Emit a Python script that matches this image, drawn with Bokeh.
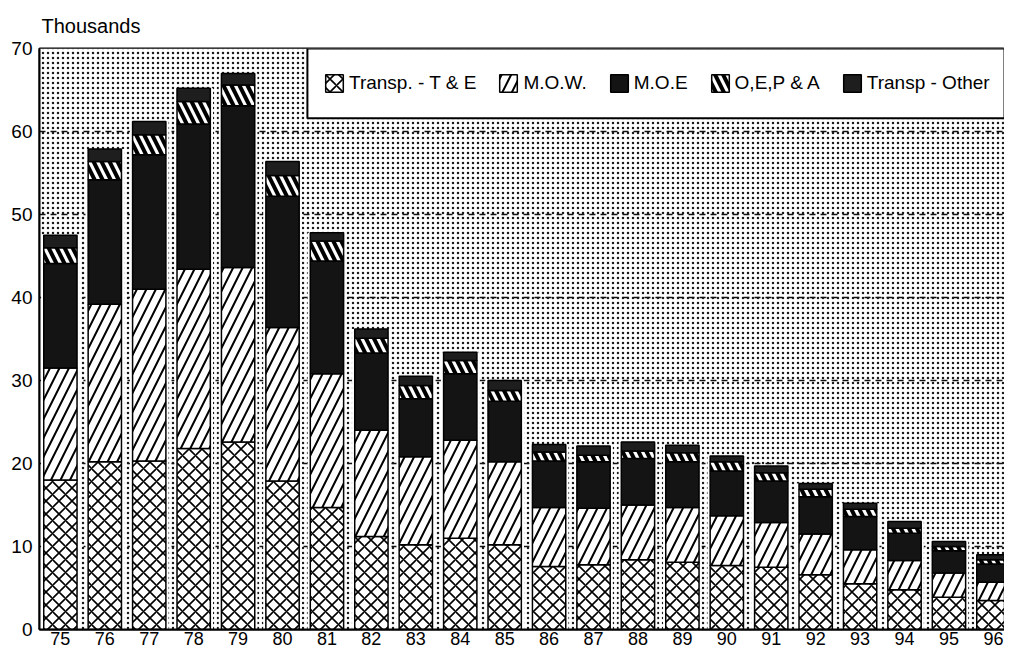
from bokeh.plotting import figure
from bokeh.models import (ColumnDataSource, Range1d, FixedTicker, Legend, LegendItem,
                          BoxAnnotation)
from bokeh.embed import file_html
from bokeh.resources import INLINE

# ---------------- data (thousands) ----------------
years = [75, 76, 77, 78, 79, 80, 81, 82, 83, 84, 85, 86, 87, 88, 89, 90, 91, 92, 93, 94, 95, 96]
year_labels = [str(y) for y in years]
transp_te = [18.0, 20.2, 20.3, 21.8, 22.6, 17.9, 14.7, 11.2, 10.2, 11.0, 10.2, 7.6, 7.8, 8.4, 8.1, 7.7, 7.5, 6.6, 5.5, 4.8, 3.9, 3.5]
mow       = [13.5, 19.0, 20.7, 21.6, 21.0, 18.5, 16.1, 12.8, 10.6, 11.8, 10.0, 7.1, 6.8, 6.6, 6.6, 6.0, 5.4, 4.9, 4.1, 3.5, 2.9, 2.2]
moe       = [12.6, 15.0, 16.2, 17.5, 19.5, 15.8, 13.6, 9.3, 7.0, 8.0, 7.3, 5.6, 5.6, 5.6, 5.5, 5.4, 5.0, 4.5, 4.0, 3.3, 2.7, 2.2]
oepa      = [1.9, 2.2, 2.4, 2.7, 2.5, 2.5, 2.4, 1.8, 1.6, 1.6, 1.3, 1.1, 0.8, 0.9, 1.1, 1.1, 1.0, 0.9, 0.9, 0.6, 0.5, 0.5]
transp_ot = [1.5, 1.5, 1.6, 1.6, 1.4, 1.7, 1.0, 1.1, 1.1, 1.0, 1.2, 0.9, 1.1, 1.1, 0.9, 0.7, 0.8, 0.7, 0.7, 0.8, 0.6, 0.6]
series_names = ["Transp. - T & E", "M.O.W.", "M.O.E", "O,E,P & A", "Transp - Other"]
y_ticks = [0, 10, 20, 30, 40, 50, 60, 70]

keys = ["te", "mow", "moe", "oepa", "ot"]
totals = [a + b + c + d + e for a, b, c, d, e in zip(transp_te, mow, moe, oepa, transp_ot)]
src = ColumnDataSource(dict(x=years, te=transp_te, mow=mow, moe=moe, oepa=oepa, ot=transp_ot,
                            total=totals))

FONT = "Liberation Sans"

p = figure(width=1004, height=650, output_backend="svg", toolbar_location=None,
           x_range=Range1d(74.53, 96.25), y_range=Range1d(0, 70),
           min_border_left=39, min_border_right=0, min_border_top=46, min_border_bottom=21)

p.title.text = "Thousands"
p.title.text_font = FONT
p.title.text_font_size = "20px"
p.title.text_font_style = "normal"
p.title.text_color = "black"
p.title.align = "left"
p.title.offset = 2
p.title.standoff = 24

p.outline_line_color = "black"
p.outline_line_width = 2
p.background_fill_color = "white"
p.border_fill_color = "white"

# stippled background
p.add_layout(BoxAnnotation(fill_color="white", fill_alpha=1.0, line_color=None,
                           hatch_pattern="dot", hatch_scale=5, hatch_weight=1.5,
                           hatch_color="#1a1a1a", level="image"))

# grid
p.xgrid.grid_line_color = None
p.ygrid.grid_line_color = "#111111"
p.ygrid.grid_line_dash = "6 5"
p.ygrid.grid_line_width = 1.5
p.ygrid.ticker = FixedTicker(ticks=y_ticks)

# axes
p.yaxis.ticker = FixedTicker(ticks=y_ticks)
p.xaxis.ticker = FixedTicker(ticks=years)
p.xaxis.major_label_overrides = {y: l for y, l in zip(years, year_labels)}
for ax in (p.xaxis[0], p.yaxis[0]):
    ax.axis_line_color = "black"
    ax.axis_line_width = 2
    ax.major_tick_line_color = None
    ax.minor_tick_line_color = None
    ax.major_tick_in = 0
    ax.major_tick_out = 0
    ax.minor_tick_in = 0
    ax.minor_tick_out = 0
    ax.major_label_text_font = FONT
    ax.major_label_text_color = "black"
p.yaxis.major_label_text_font_size = "19px"
p.xaxis.major_label_text_font_size = "18px"
p.yaxis.major_label_standoff = 7
p.xaxis.major_label_standoff = 2

# white halo behind each bar
p.vbar(x="x", top="total", width=0.87, source=src, fill_color="white", line_color=None)

rs = p.vbar_stack(keys, x="x", width=0.75, source=src,
                  fill_color=["white", "white", "#141414", "white", "#1e1e1e"],
                  line_color="black", line_width=1.5,
                  hatch_pattern=["diagonal_cross", "right_diagonal_line", " ", "left_diagonal_line", " "],
                  hatch_scale=[13, 19, 10, 16, 10],
                  hatch_weight=[1.6, 2.0, 1.0, 4.0, 1.0],
                  hatch_color="black")

# legend box
p.add_layout(BoxAnnotation(left=80.56, bottom=61.6, fill_color="white", fill_alpha=1.0,
                           line_color="black", line_width=2, line_alpha=1.0))

legend = Legend(items=[LegendItem(label=n, renderers=[r]) for n, r in zip(series_names, rs)],
                orientation="horizontal", location=(284, 535), margin=0, padding=4,
                spacing=21, label_standoff=4, glyph_width=22, glyph_height=22,
                label_text_font=FONT, label_text_font_size="19px", label_text_color="black",
                border_line_color=None, background_fill_alpha=0)
p.add_layout(legend, "center")

open("out.html", "w").write(file_html(p, INLINE))
